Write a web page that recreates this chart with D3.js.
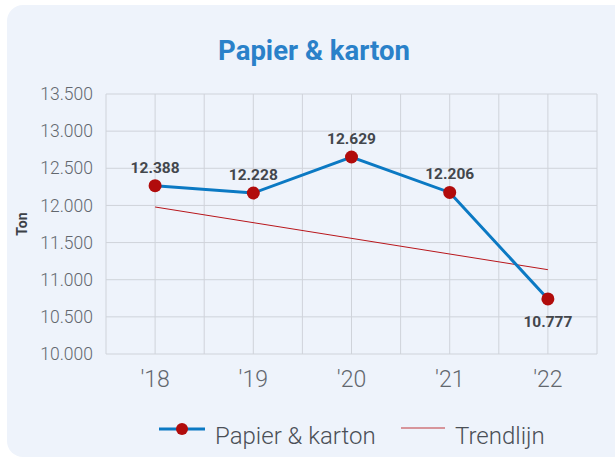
<!DOCTYPE html>
<html lang="nl">
<head>
  <meta charset="UTF-8">
  <title>Papier &amp; karton</title>
  <script src="https://d3js.org/d3.v7.min.js"></script>
  <style>
    body { margin: 0; background: #fff; font-family: Roboto, sans-serif; }
  </style>
</head>
<body>
  <script>
    const width = 615, height = 461;

    const years = ["'18", "'19", "'20", "'21", "'22"];
    const values = [12266, 12167, 12652, 12175, 10741];   // plotted positions
    const labels = ['12.388', '12.228', '12.629', '12.206', '10.777'];
    const trend = [11979, 11135];                          // trend start / end
    const yTicks = [10000, 10500, 11000, 11500, 12000, 12500, 13000, 13500];

    const svg = d3.select('body')
      .append('svg')
      .attr('width', width)
      .attr('height', height);

    // panel
    svg.append('rect')
      .attr('x', 7).attr('y', 5)
      .attr('width', 625).attr('height', 452)
      .attr('rx', 16)
      .attr('fill', '#eef3fb');

    svg.append('text')
      .attr('x', 314).attr('y', 60)
      .attr('text-anchor', 'middle')
      .attr('font-size', 27.5).attr('font-weight', 700)
      .attr('fill', '#2a81c9')
      .text('Papier & karton');

    const pLeft = 106, pRight = 597, pTop = 94, pBottom = 354;

    const x = d3.scaleBand().domain(years).range([pLeft, pRight]);
    const y = d3.scaleLinear().domain([10000, 13500]).range([pBottom, pTop]);
    const cx = d => x(d) + x.bandwidth() / 2;

    // grid
    const grid = svg.append('g').attr('stroke', '#cfd3da').attr('stroke-width', 1);
    yTicks.forEach(t => {
      grid.append('line').attr('x1', pLeft).attr('x2', pRight)
        .attr('y1', y(t)).attr('y2', y(t));
    });
    const vx = [pLeft];
    years.forEach(d => { vx.push(cx(d)); vx.push(x(d) + x.bandwidth()); });
    vx.forEach(v => {
      grid.append('line').attr('x1', v).attr('x2', v)
        .attr('y1', pTop).attr('y2', pBottom);
    });

    // y axis
    const yAxis = d3.axisLeft(y)
      .tickValues(yTicks)
      .tickSize(0)
      .tickPadding(13)
      .tickFormat(d => d3.format(',.3f')(d / 1000).replace(',', '.'));
    const ya = svg.append('g').attr('transform', `translate(${pLeft},0)`).call(yAxis);
    ya.select('.domain').remove();
    ya.selectAll('text').attr('font-family', 'Roboto').attr('font-size', 17.5)
      .attr('fill', '#62676e').attr('font-weight', 300);

    // x axis
    const xAxis = d3.axisBottom(x).tickSize(0).tickPadding(17);
    const xa = svg.append('g').attr('transform', `translate(0,${pBottom})`).call(xAxis);
    xa.select('.domain').remove();
    xa.selectAll('text').attr('font-family', 'Roboto').attr('font-size', 23)
      .attr('fill', '#62676e').attr('font-weight', 300);

    svg.append('text')
      .attr('transform', `translate(27,${(pTop + pBottom) / 2}) rotate(-90)`)
      .attr('text-anchor', 'middle')
      .attr('font-size', 14).attr('font-weight', 700).attr('fill', '#3c4046')
      .text('Ton');

    // trend line
    svg.append('line')
      .attr('x1', cx(years[0])).attr('y1', y(trend[0]))
      .attr('x2', cx(years[years.length - 1])).attr('y2', y(trend[1]))
      .attr('stroke', '#b8161b').attr('stroke-width', 1);

    // series
    const line = d3.line().x((d, i) => cx(years[i])).y(d => y(d));
    svg.append('path')
      .datum(values)
      .attr('d', line)
      .attr('fill', 'none')
      .attr('stroke', '#0b79c3')
      .attr('stroke-width', 3);

    svg.selectAll('circle.pt')
      .data(values)
      .join('circle')
      .attr('class', 'pt')
      .attr('cx', (d, i) => cx(years[i]))
      .attr('cy', d => y(d))
      .attr('r', 6.5)
      .attr('fill', '#b10c0c');

    svg.selectAll('text.lbl')
      .data(values)
      .join('text')
      .attr('class', 'lbl')
      .attr('x', (d, i) => cx(years[i]))
      .attr('y', (d, i) => i === values.length - 1 ? y(d) + 28 : y(d) - 13)
      .attr('text-anchor', 'middle')
      .attr('font-size', 15.5).attr('font-weight', 700).attr('fill', '#43474d')
      .text((d, i) => labels[i]);

    // legend
    const lg = svg.append('g');
    lg.append('line').attr('x1', 159).attr('x2', 205).attr('y1', 429).attr('y2', 429)
      .attr('stroke', '#0b79c3').attr('stroke-width', 3);
    lg.append('circle').attr('cx', 182).attr('cy', 429).attr('r', 6).attr('fill', '#b10c0c');
    lg.append('text').attr('x', 215).attr('y', 444)
      .attr('font-size', 24).attr('font-weight', 300).attr('fill', '#4a4f56')
      .text('Papier & karton');
    lg.append('line').attr('x1', 401).attr('x2', 445).attr('y1', 428).attr('y2', 428)
      .attr('stroke', '#c0393d').attr('stroke-width', 1.2);
    lg.append('text').attr('x', 455).attr('y', 444)
      .attr('font-size', 24).attr('font-weight', 300).attr('fill', '#4a4f56')
      .text('Trendlijn');
  </script>
</body>
</html>
